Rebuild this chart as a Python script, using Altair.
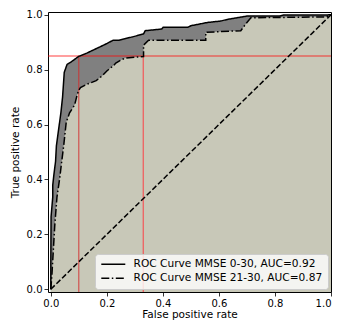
import altair as alt
import pandas as pd

# ROC curve MMSE 0-30 (solid)
c1_fpr = [0, 0, 0.001, 0.007, 0.007, 0.011, 0.017, 0.02, 0.028, 0.036,
          0.042, 0.046, 0.048, 0.058, 0.075, 0.099, 0.128, 0.163, 0.2, 0.222, 0.243,
          0.29, 0.331, 0.337, 0.396, 0.401, 0.489, 0.5, 0.56, 0.606, 0.63,
          0.70, 0.817, 0.83, 0.98, 1.0]
c1_tpr = [0, 0.088, 0.265, 0.336, 0.38, 0.417, 0.466, 0.523, 0.583, 0.643,
          0.70, 0.76, 0.79, 0.819, 0.83, 0.848, 0.86, 0.877, 0.895, 0.907, 0.907,
          0.919, 0.93, 0.942, 0.948, 0.954, 0.954, 0.96, 0.972, 0.977, 0.983,
          0.995, 0.995, 0.999, 0.999, 1.0]

# ROC curve MMSE 21-30 (dash-dot)
c2_fpr = [0, 0.004, 0.008, 0.014, 0.022, 0.032, 0.039, 0.046, 0.055, 0.067,
          0.085, 0.092, 0.099, 0.106, 0.127, 0.162, 0.183, 0.2, 0.225, 0.232,
          0.254, 0.267, 0.331, 0.331, 0.349, 0.553, 0.553, 0.678, 0.70, 0.714,
          0.982, 1.0]
c2_tpr = [0, 0.053, 0.124, 0.23, 0.336, 0.406, 0.466, 0.523, 0.608, 0.643,
          0.671, 0.70, 0.724, 0.735, 0.746, 0.76, 0.777, 0.795, 0.816, 0.824,
          0.837, 0.842, 0.848, 0.889, 0.907, 0.907, 0.936, 0.942, 0.972, 0.989,
          0.992, 1.0]

labels = ["ROC Curve MMSE 0-30, AUC=0.92", "ROC Curve MMSE 21-30, AUC=0.87"]
tick_values = [0.0, 0.2, 0.4, 0.6, 0.8, 1.0]
cut_tpr = [0.85]
cut_fpr = [0.1, 0.33]
x_dom = [-0.01, 1.0]
y_dom = [-0.01, 1.01]

df1 = pd.DataFrame({"fpr": c1_fpr, "tpr": c1_tpr, "series": labels[0],
                    "idx": range(len(c1_fpr)), "base": y_dom[0]})
df2 = pd.DataFrame({"fpr": c2_fpr, "tpr": c2_tpr, "series": labels[1],
                    "idx": range(len(c2_fpr)), "base": y_dom[0]})
curves = pd.concat([df1, df2], ignore_index=True)

FONT = "DejaVu Sans"

xs = alt.Scale(domain=x_dom, nice=False, zero=False)
ys = alt.Scale(domain=y_dom, nice=False, zero=False)
X = alt.X("fpr:Q", scale=xs,
          axis=alt.Axis(values=tick_values, format=".1f", title="False positive rate",
                        labelFlush=1))
Y = alt.Y("tpr:Q", scale=ys,
          axis=alt.Axis(values=tick_values, format=".1f", title="True positive rate"))

area1 = alt.Chart(df1).mark_area(color="#808080", opacity=1).encode(
    x=X, y=Y, y2="base:Q")
area2 = alt.Chart(df2).mark_area(color="#c8c8b8", opacity=1).encode(
    x=X, y=Y, y2="base:Q")

hdf = pd.DataFrame({"x": [x_dom[0]], "x2": [x_dom[1]], "y": cut_tpr})
hline = alt.Chart(hdf).mark_rule(color="#ff0000", opacity=0.5, strokeWidth=1.5).encode(
    x=alt.X("x:Q", scale=xs), x2="x2:Q", y=alt.Y("y:Q", scale=ys))

vdf = pd.DataFrame({"x": cut_fpr, "y": [y_dom[0]] * 2, "y2": cut_tpr * 2,
                    "c": ["#d42a2a", "#f06060"], "w": [0.9, 1.3]})
vline = alt.Chart(vdf).mark_rule().encode(
    x=alt.X("x:Q", scale=xs), y=alt.Y("y:Q", scale=ys), y2="y2:Q",
    color=alt.Color("c:N", scale=None),
    strokeWidth=alt.StrokeWidth("w:Q", scale=None))

ddf = pd.DataFrame({"fpr": [0, 1], "tpr": [0, 1]})
diag = alt.Chart(ddf).mark_line(color="black", strokeWidth=1.5, strokeDash=[5.5, 2.4]).encode(
    x=alt.X("fpr:Q", scale=xs), y=alt.Y("tpr:Q", scale=ys))

lines = alt.Chart(curves).mark_line(color="black", strokeWidth=1.5).encode(
    x=alt.X("fpr:Q", scale=xs),
    y=alt.Y("tpr:Q", scale=ys),
    order="idx:Q",
    detail="series:N",
    strokeDash=alt.StrokeDash(
        "series:N",
        scale=alt.Scale(domain=labels, range=[[1, 0], [8, 2.5, 1.5, 2.5]]),
        legend=alt.Legend(
            title=None, orient="bottom-right", offset=3,
            fillColor="rgba(255,255,255,0.8)", strokeColor="#cccccc",
            cornerRadius=3, padding=5,
            symbolType="M-1,0L5,0", symbolSize=64,
            symbolStrokeWidth=1.5, symbolStrokeColor="black",
            symbolFillColor="transparent",
            labelFont=FONT, labelFontSize=10.6, labelColor="black",
            labelOffset=23, rowPadding=3, labelLimit=400,
        ),
    ),
)

chart = alt.layer(area1, area2, hline, vline, diag, lines).properties(
    width=283, height=280,
    autosize=alt.AutoSizeParams(type="none"),
    padding={"left": 40, "top": 4, "right": 4, "bottom": 28},
).configure_view(stroke="black", strokeWidth=1).configure_axis(
    grid=False, domain=False, ticks=True, tickColor="black", tickSize=4,
    tickWidth=0.8, labelFont=FONT, labelFontSize=10, labelColor="black",
    labelPadding=2, titleFont=FONT, titleFontSize=10.5, titleFontWeight="normal",
    titleColor="black",
).configure_axisX(titlePadding=1).configure_axisY(titlePadding=6)

chart.save("out.html", embed_options={"renderer": "svg", "actions": False})
